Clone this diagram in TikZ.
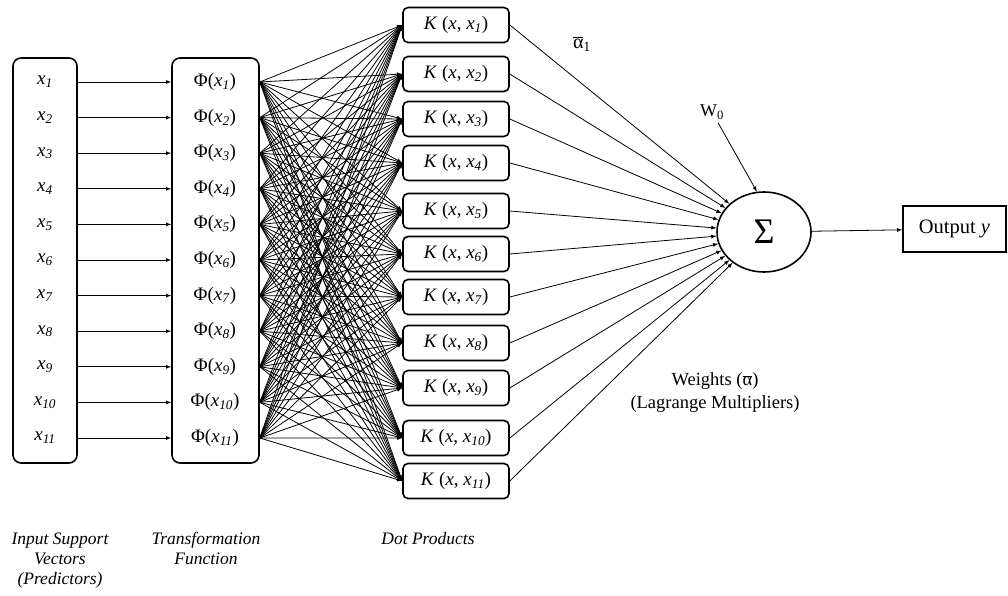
\documentclass[tikz,border=0pt]{standalone}
\usepackage{fontspec}
\setmainfont{Liberation Serif}
\usetikzlibrary{positioning}
\usetikzlibrary{arrows}
\usetikzlibrary{shapes.geometric}

% italic x with an italic index
\newcommand{\xsub}[1]{\textit{x}\textsubscript{\textit{#1}}}

\begin{document}
\begin{tikzpicture}[x=1pt, y=-1pt, font=\fontsize{19}{22}\selectfont,
	bigbox/.style={draw, line width=1.6pt, rounded corners=8pt},
	kbox/.style={draw, line width=1.6pt, rounded corners=5pt, minimum width=106pt, minimum height=35pt, inner sep=0pt},
	link/.style={-latex, line width=0.8pt},
	caption/.style={align=center, anchor=north, font=\itshape\fontsize{17.5}{20}\selectfont}]
	\useasboundingbox (0,0) rectangle (1008,596);

	% the two tall boxes
	\node[bigbox, minimum width=64pt, minimum height=405pt] (inbox) at (45,260.5) {};
	\node[bigbox, minimum width=87pt, minimum height=405pt] (phibox) at (215.5,260.5) {};

	% inputs and their transforms
	\foreach \i in {1,...,11} {
		\node (x\i) at (45, {82+35.6*(\i-1)}) {\xsub{\i}};
		\node (p\i) at (215, {82+35.6*(\i-1)}) {Φ(\xsub{\i})};
		\draw[link] (inbox.east |- x\i) -- (phibox.west |- p\i);
	}

	% kernel boxes
	\foreach \y [count=\j] in {25,74,119,163,211,254,297,343,388,438,481} {
		\node[kbox] (k\j) at (456,\y) {\textit{K} (\textit{x}, \xsub{\j})};
	}

	% every transform goes to every kernel
	\foreach \i in {1,...,11}
		\foreach \j in {1,...,11}
			\draw[link] (phibox.east |- p\i) -- (k\j.west);

	% summation
	\node[ellipse, draw, line width=1.6pt, minimum width=94pt, minimum height=80pt, inner sep=0pt] (sum) at (764,232) {\fontsize{36}{36}\selectfont Σ};
	\foreach \j in {1,...,11}
		\draw[link] (k\j.east) -- (sum);

	\node[font=\fontsize{18}{20}\selectfont] (w0) at (712,112) {W\textsubscript{0}};
	\draw[link] (w0) -- (sum.100);

	\node[draw, line width=1.6pt, minimum width=103pt, minimum height=46pt, font=\fontsize{20.5}{22}\selectfont] (out) at (954.5,229) {Output \textit{y}};
	\draw[link] (sum) -- (out);

	% weights
	\node[font=\fontsize{20}{22}\selectfont] (a1) at (582,44) {$\overline{\hbox{α}}$\textsubscript{1}};
	\node[align=center, font=\fontsize{18.5}{23}\selectfont] (wt) at (715,393) {Weights ($\overline{\hbox{α}}$)\\(Lagrange Multipliers)};

	% captions
	\node[caption] (lin) at (60,529) {Input Support\\Vectors\\(Predictors)};
	\node[caption] (lphi) at (206,529) {Transformation\\Function};
	\node[caption] (lk) at (428,529) {Dot Products};
\end{tikzpicture}
\end{document}
